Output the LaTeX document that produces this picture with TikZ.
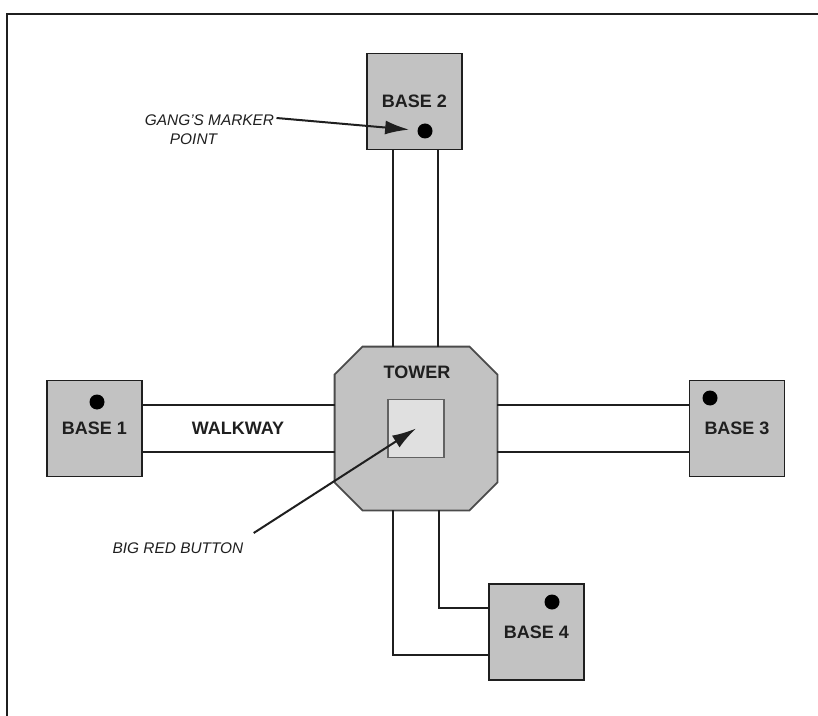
\documentclass[tikz,border=0pt]{standalone}
\usepackage{fontspec}
\setmainfont{Liberation Sans}
\usepackage{tikz}
\usetikzlibrary{positioning,arrows.meta}
\definecolor{boxgray}{gray}{0.76}
\definecolor{padgray}{gray}{0.88}
\definecolor{inkcolor}{gray}{0.12}
\tikzset{
  basebox/.style={draw=inkcolor, line width=0.9pt, fill=boxgray, minimum width=47.5pt, minimum height=48pt, font=\fontsize{9}{10}\selectfont\bfseries, text=inkcolor, inner sep=0pt},
  towerbox/.style={minimum width=81pt, minimum height=81.5pt, inner sep=0pt},
  towerline/.style={draw=inkcolor!80, line width=0.9pt, fill=boxgray},
  pad/.style={draw=inkcolor!70, line width=0.6pt, fill=padgray, minimum width=28pt, minimum height=29pt, inner sep=0pt},
  mkr/.style={circle, fill=black, minimum size=7.5pt, inner sep=0pt},
  walk/.style={draw=inkcolor, line width=0.7pt},
  ttl/.style={font=\fontsize{9}{10}\selectfont\bfseries, text=inkcolor, inner sep=1pt},
  note/.style={font=\fontsize{7.7}{9.5}\selectfont\itshape, text=inkcolor, align=center, inner sep=1pt},
  ptr/.style={-{Latex[length=12pt,width=7pt]}, line width=1pt, draw=inkcolor},
  edgeline/.style={line width=1.4pt, draw=inkcolor},
}

\begin{document}
\begin{tikzpicture}[x=0.5pt,y=-0.5pt]
\useasboundingbox (0,0) rectangle (818,716);
\draw[edgeline] (818,14) -- (7,14) -- (7,716);
% tower and bases
\node[towerbox] (tower) at (416,428.5) {};
\draw[towerline] ([xshift=14pt]tower.north west) -- ([xshift=-14pt]tower.north east)
  -- ([yshift=-14pt]tower.north east) -- ([yshift=14pt]tower.south east)
  -- ([xshift=-14pt]tower.south east) -- ([xshift=14pt]tower.south west)
  -- ([yshift=14pt]tower.south west) -- ([yshift=-14pt]tower.north west) -- cycle;
\node[pad] (pad) at (tower.center) {};
\node[ttl] (towerlbl) at (417,372) {TOWER};
\node[basebox] (b1) at (94.5,428.5) {BASE 1};
\node[basebox] (b2) at (414.5,101.5) {BASE 2};
\node[basebox] (b3) at (737,428.5) {BASE 3};
\node[basebox] (b4) at (536.5,632) {BASE 4};
\node[mkr] (d1) at (97,402) {};
\node[mkr] (d2) at (425,131) {};
\node[mkr] (d3) at (710,398) {};
\node[mkr] (d4) at (552,602) {};
% walkways
\draw[walk] ([xshift=-11.5pt]tower.north) -- ([xshift=-11.5pt]tower.north |- b2.south);
\draw[walk] ([xshift=11pt]tower.north) -- ([xshift=11pt]tower.north |- b2.south);
\draw[walk] ([yshift=11.75pt]tower.west) -- ([yshift=11.75pt]tower.west -| b1.east);
\draw[walk] ([yshift=-11.75pt]tower.west) -- ([yshift=-11.75pt]tower.west -| b1.east);
\draw[walk] ([yshift=11.75pt]tower.east) -- ([yshift=11.75pt]tower.east -| b3.west);
\draw[walk] ([yshift=-11.75pt]tower.east) -- ([yshift=-11.75pt]tower.east -| b3.west);
\draw[walk] ([xshift=-11.5pt]tower.south) |- ([yshift=-11.5pt]b4.west);
\draw[walk] ([xshift=11.5pt]tower.south) |- ([yshift=12pt]b4.west);
\node[ttl] (walklbl) at (238,428) {WALKWAY};
% labels
\node[note] (gang) at (209.5,130) {GANG'S MARKER\\POINT\hspace*{16pt}};
\draw[ptr, shorten >=4pt] ([yshift=6pt]gang.east) -- (d2);
\node[note] (red) at (178,548) {BIG RED BUTTON};
\draw[ptr] ([shift={(4pt,7.5pt)}]red.east) -- (pad.center);
\end{tikzpicture}
\end{document}
